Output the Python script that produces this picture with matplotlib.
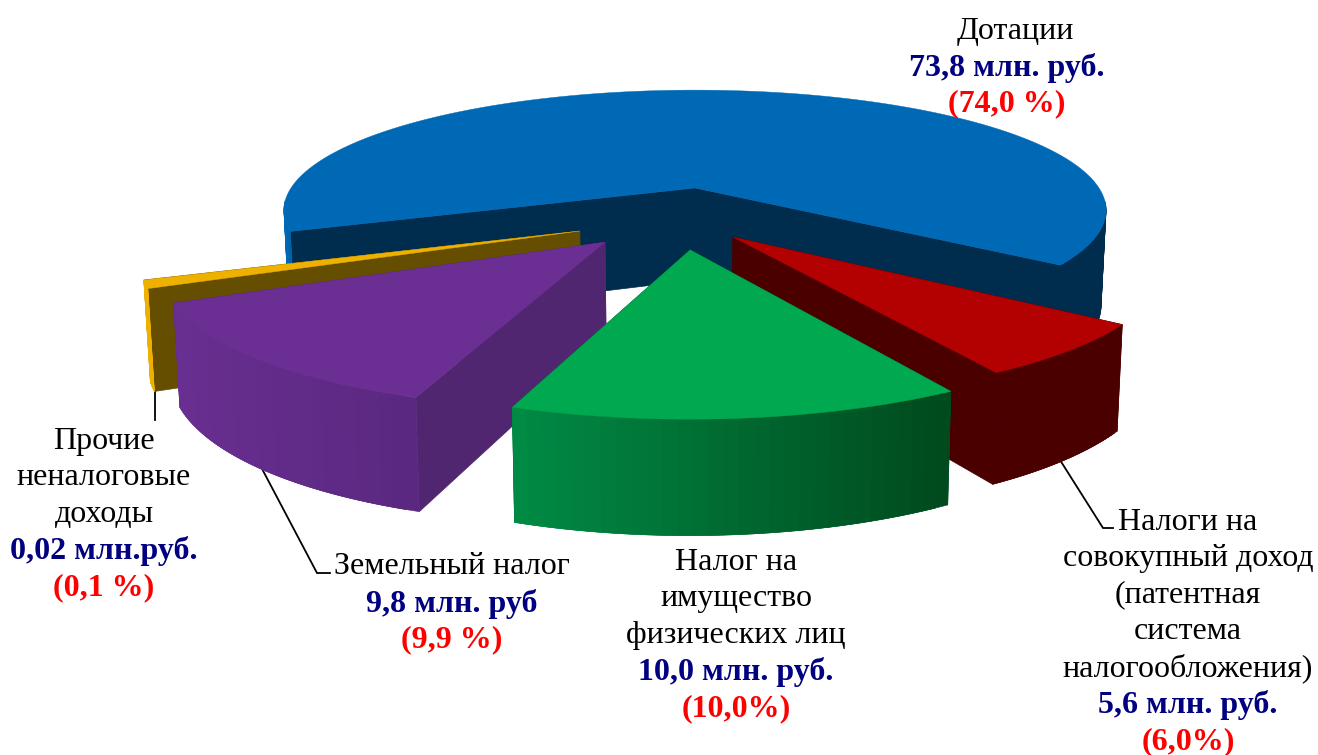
import numpy as np
import matplotlib
matplotlib.use("Agg")
import matplotlib.pyplot as plt
from matplotlib.colors import to_rgb

# ---- data ----
categories = ["Дотации", "Налоги на совокупный доход", "Налог на имущество физических лиц",
              "Земельный налог", "Прочие неналоговые доходы"]
shares = [74.0, 6.0, 10.0, 9.9, 0.1]
amounts = ["73,8 млн. руб.", "5,6 млн. руб.", "10,0 млн. руб.", "9,8 млн. руб", "0,02 млн.руб."]
percents = ["(74,0 %)", "(6,0%)", "(10,0%)", "(9,9 %)", "(0,1 %)"]
name_lines = [["Дотации"],
              ["Налоги на", "совокупный доход", "(патентная", "система", "налогообложения)"],
              ["Налог на", "имущество", "физических лиц"],
              ["Земельный налог"],
              ["Прочие", "неналоговые", "доходы"]]

# ---- style / layout ----
sweep_gain = [0.889, 1.083, 1.383, 1.305, 9.7]      # perspective distortion of each sector
phi_offset = [0.0, 0.0, 0.0, -0.8, 0.0]
start_phi = 159.5
apex = [(0.0, 0.0), (0.087, 0.392), (-0.011, 0.486), (-0.205, 0.43), (-0.267, 0.347)]
radius = [1.0, 0.97, 0.97, 0.975, 0.985]
top_col = ["#0069B5", "#B30000", "#00A84F", "#6B2E93", "#EEB100"]
side_col = ["#002C4E", "#4B0000", "#00592A", "#512670", "#664E00"]
wall_left = ["#0069B5", "#4B0000", "#008C45", "#692E91", "#EEB100"]
wall_right = ["#002C4E", "#4B0000", "#004A1E", "#5A2880", "#EEB100"]
gradient_span = [0.1, 1, 1, 1, 1]
draw_order = [0, 4, 1, 3, 2]
label_x = [1007, 1188, 736, 452, 104]
label_y0 = [31, 522, 562, 567, 441]
LINE = 36.6
FS = 23

CX, CY, RX, A, U, H, P, SHRINK = 695, 188, 404, 116, 0.185, 92, 0.75, 0.988


def project(X, Y, bottom=False):
    X, Y = np.asarray(X, float), np.asarray(Y, float)
    s = 1 / (1 - U * Y)
    x = CX + RX * X * s
    y = CY + A * Y * s
    if bottom:
        x = CX + (x - CX) * SHRINK
        y = y + H * s ** P
    return x, y


fig = plt.figure(figsize=(13.18, 7.55), dpi=100)
ax = fig.add_axes([0, 0, 1, 1])
ax.set_xlim(0, 1318)
ax.set_ylim(755, 0)
ax.axis("off")

# leader lines
for lx, ly in [([155, 155], [386, 420]),
               ([260, 317, 330], [465, 573, 573]),
               ([1060, 1103, 1113], [460, 528, 528])]:
    ax.plot(lx, ly, color="black", lw=1.3, zorder=1, solid_joinstyle="miter")

sweeps = np.array(shares) * 3.6 * np.array(sweep_gain)
starts = start_phi + np.concatenate([[0], np.cumsum(sweeps)[:-1]]) + np.array(phi_offset)

z = 2
for i in draw_order:
    phi = np.radians(np.linspace(starts[i], starts[i] + sweeps[i], 181))
    ax0, ay0 = apex[i]
    PX = ax0 + radius[i] * np.cos(phi)
    PY = ay0 + radius[i] * np.sin(phi)
    tx, ty = project(PX, PY)
    bx, by = project(PX, PY, bottom=True)
    atx, aty = project(ax0, ay0)
    abx, aby = project(ax0, ay0, bottom=True)
    # inner walls
    for k in (-1, 0):
        ax.fill([atx, tx[k], bx[k], abx], [aty, ty[k], by[k], aby],
                color=side_col[i], lw=0.5, zorder=z)
        z += 1
    # outer wall, lit from the left; only the part facing the viewer
    c0, c1 = np.array(to_rgb(wall_left[i])), np.array(to_rgb(wall_right[i]))
    vis = np.flatnonzero(np.sin(phi) > 0.1)
    xmin, xmax = tx.min(), tx.max()
    runs = np.split(vis, np.flatnonzero(np.diff(vis) > 1) + 1)
    for run in runs:
        step = max(1, len(run) // 30)
        for a in range(0, len(run) - 1, step):
            seg = run[a:a + 2 * step + 1]
            t = min(1, (tx[run[a]] - xmin) / max(xmax - xmin, 1) / gradient_span[i])
            ax.fill(np.r_[tx[seg], bx[seg][::-1]], np.r_[ty[seg], by[seg][::-1]],
                    color=c0 + (c1 - c0) * t, lw=0.4, zorder=z)
            z += 0.001
    z += 1
    # top
    ax.fill(np.r_[atx, tx], np.r_[aty, ty], color=top_col[i], lw=0.3, zorder=z)
    z += 1

# labels
fam = "Liberation Serif"
for i in range(len(categories)):
    y = label_y0[i]
    xc = label_x[i]
    for n, line in enumerate(name_lines[i]):
        ax.text(xc + (8 if i == 0 else 0), y, line, ha="center", va="center", family=fam, fontsize=FS,
                color="black", zorder=200)
        y += LINE
    ax.text(xc, y, amounts[i], ha="center", va="center", family=fam, fontsize=FS, weight="bold",
            color="#000080", zorder=200)
    y += LINE
    ax.text(xc, y, percents[i], ha="center", va="center", family=fam, fontsize=FS, weight="bold",
            color="#FF0000", zorder=200)

fig.savefig("out.png", dpi=100, facecolor="white")
